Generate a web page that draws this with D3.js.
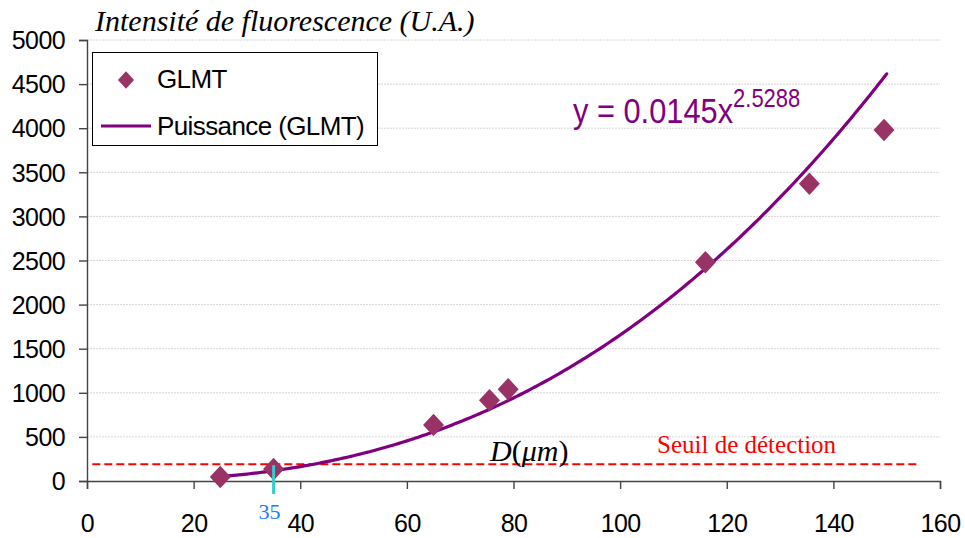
<!DOCTYPE html>
<html>
<head>
<meta charset="utf-8">
<script src="https://cdn.jsdelivr.net/npm/d3@7"></script>
<style>
  html, body { margin: 0; padding: 0; background: #fff; }
  svg { display: block; }
</style>
</head>
<body>
<svg id="chart" width="965" height="538"></svg>
<script>
// Measured diameters (µm) and fluorescence intensities (a.u.)
const diameters = [25, 35, 65, 75.5, 79, 116, 135.5, 149.5];
const intensities = [45, 135, 635, 915, 1040, 2480, 3370, 3980];

// Power-law fit y = a * x^b
const fitA = 0.0145;
const fitB = 2.5288;
const fitRange = [25, 150];

// Detection threshold and the marked diameter
const threshold = 190;
const thresholdRange = [1, 156];
const markedDiameter = 35;

const xTicks = [0, 20, 40, 60, 80, 100, 120, 140, 160];
const yTicks = [0, 500, 1000, 1500, 2000, 2500, 3000, 3500, 4000, 4500, 5000];

const sans = "Arial, 'Liberation Sans', sans-serif";
const serif = "'Liberation Serif', 'Times New Roman', serif";

const svg = d3.select("#chart");
const x = d3.scaleLinear().domain([0, 160]).range([87, 940]);
const y = d3.scaleLinear().domain([0, 5000]).range([481, 40]);

// Horizontal grid lines
svg.append("g")
  .selectAll("line")
  .data(yTicks.filter(d => d > 0))
  .join("line")
  .attr("x1", x(0)).attr("x2", x(160))
  .attr("y1", d => y(d)).attr("y2", d => y(d))
  .attr("stroke", "#d6d6d6")
  .attr("stroke-width", 1)
  .attr("stroke-dasharray", "2,1");

// Axes
const yAxis = d3.axisLeft(y).tickValues(yTicks).tickSize(8).tickPadding(14).tickFormat(d3.format("d"));
const xAxis = d3.axisBottom(x).tickValues(xTicks).tickSize(8).tickPadding(25).tickFormat(d3.format("d"));

const gy = svg.append("g").attr("transform", `translate(${x(0)},0)`).call(yAxis);
const gx = svg.append("g").attr("transform", `translate(0,${y(0)})`).call(xAxis);
[gx, gy].forEach(g => {
  g.select(".domain").attr("stroke", "#444").attr("stroke-width", 1.4);
  g.selectAll(".tick line").attr("stroke", "#444").attr("stroke-width", 1.4);
  g.selectAll(".tick text")
    .attr("fill", "#000")
    .style("font-family", sans)
    .style("font-size", "25px")
    .style("letter-spacing", "-0.6px");
});
gy.selectAll(".tick text").attr("dy", "0.35em");
gx.selectAll(".tick text").attr("dy", "0.71em");

// Detection threshold
svg.append("line")
  .attr("x1", x(thresholdRange[0])).attr("x2", x(thresholdRange[1]))
  .attr("y1", y(threshold)).attr("y2", y(threshold))
  .attr("stroke", "#ff0000")
  .attr("stroke-width", 1.8)
  .attr("stroke-dasharray", "8,4");

// Power-law trend line
const fitX = d3.range(fitRange[0], fitRange[1] + 0.001, 0.5);
const line = d3.line().x(d => x(d)).y(d => y(fitA * Math.pow(d, fitB)));
svg.append("path")
  .datum(fitX)
  .attr("d", line)
  .attr("fill", "none")
  .attr("stroke", "#800080")
  .attr("stroke-width", 3.2)
  .attr("stroke-linecap", "round");

// Data points (diamonds drawn as rotated squares)
const square = d3.symbol().type(d3.symbolSquare).size(220);
svg.append("g")
  .selectAll("path")
  .data(diameters.map((d, i) => [d, intensities[i]]))
  .join("path")
  .attr("d", square)
  .attr("transform", d => `translate(${x(d[0])},${y(d[1])}) scale(1,1.08) rotate(45)`)
  .attr("fill", "#993366");

// Marker at the detection diameter
svg.append("line")
  .attr("x1", x(markedDiameter)).attr("x2", x(markedDiameter))
  .attr("y1", y(threshold) + 1).attr("y2", y(0) + 13)
  .attr("stroke", "#33cccc")
  .attr("stroke-width", 3);
svg.append("text")
  .attr("x", x(markedDiameter) - 4).attr("y", 519)
  .attr("text-anchor", "middle")
  .attr("fill", "#1a7cff")
  .style("font-family", serif)
  .style("font-size", "22px")
  .text(markedDiameter);

// Axis titles
svg.append("text")
  .attr("x", 95).attr("y", 31)
  .style("font-family", serif)
  .style("font-style", "italic")
  .style("font-size", "30px")
  .text("Intensité de fluorescence (U.A.)");

const dLabel = svg.append("text")
  .attr("x", 490).attr("y", 461)
  .style("font-family", serif)
  .style("font-size", "30px");
dLabel.append("tspan").style("font-style", "italic").text("D");
dLabel.append("tspan").text("(");
dLabel.append("tspan").style("font-style", "italic").text("μm");
dLabel.append("tspan").text(")");

svg.append("text")
  .attr("x", 657).attr("y", 453)
  .attr("fill", "#ff0000")
  .style("font-family", serif)
  .style("font-size", "25px")
  .text("Seuil de détection");

// Fit equation
const eq = svg.append("g")
  .attr("transform", "translate(573,123) scale(0.88,1)")
  .append("text")
  .attr("fill", "#800080")
  .style("font-family", sans)
  .style("font-size", "35px");
eq.append("tspan").text(`y = ${fitA}x`);
eq.append("tspan").attr("dy", -16).style("font-size", "25px").text(fitB);

// Legend
const legend = svg.append("g");
legend.append("rect")
  .attr("x", 92.5).attr("y", 52.5).attr("width", 285).attr("height", 93)
  .attr("fill", "#fff").attr("stroke", "#000").attr("stroke-width", 1);
legend.append("path")
  .attr("d", d3.symbol().type(d3.symbolSquare).size(130))
  .attr("transform", "translate(126,80) scale(1,1.08) rotate(45)")
  .attr("fill", "#993366");
legend.append("text")
  .attr("x", 157).attr("y", 88)
  .style("font-family", sans)
  .style("font-size", "26px")
  .style("letter-spacing", "-0.6px")
  .text("GLMT");
legend.append("line")
  .attr("x1", 101).attr("x2", 151).attr("y1", 126).attr("y2", 126)
  .attr("stroke", "#800080").attr("stroke-width", 3.2);
legend.append("text")
  .attr("x", 157).attr("y", 135)
  .style("font-family", sans)
  .style("font-size", "26px")
  .style("letter-spacing", "-0.6px")
  .text("Puissance (GLMT)");
</script>
</body>
</html>
